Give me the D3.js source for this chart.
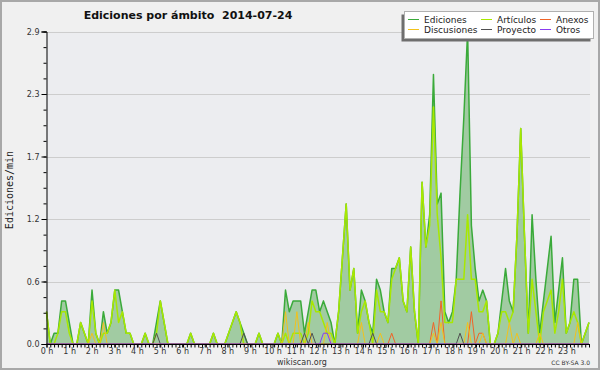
<!DOCTYPE html>
<html>
<head>
<meta charset="utf-8">
<script src="https://d3js.org/d3.v7.min.js"></script>
<style>
  body { margin: 0; background: #f0f0f0; }
  svg text { font-family: "DejaVu Sans", sans-serif; }
</style>
</head>
<body>
<script>
// edits per minute, one value every 10 minutes (144 per day)
var ediciones = [
  0.3,0,0.1,0.1,0.4,0.4,0.2,0,0,0.2,0.1,0,
  0.5,0.1,0,0.3,0.1,0.2,0.5,0.5,0.3,0.1,0.1,0,
  0,0,0.1,0,0,0.2,0.4,0.2,0,0,0,0,
  0,0,0.1,0,0,0,0,0,0.1,0,0,0,
  0.1,0.2,0.3,0.2,0.1,0,0,0,0.1,0,0,0,
  0,0.1,0,0.5,0.3,0.4,0.4,0.4,0.1,0.3,0.5,0.5,
  0.3,0.4,0.3,0.2,0,0.3,0.8,1.3,0.5,0.7,0.1,0.5,
  0.4,0.2,0.1,0.6,0.5,0.3,0.2,0.7,0.7,0.8,0.4,0.3,
  0.9,0.3,0,1.5,0.9,1.2,2.5,1.3,1.4,0.3,0.2,0.3,
  0.6,1.4,2.1,2.9,1.1,0.7,0.4,0.5,0.4,0,0,0.1,
  0.4,0.7,0.4,0.3,1.0,2.0,1.0,0.1,1.2,0.6,0.1,0.4,
  0.7,1.0,0.2,0.5,0.8,0.1,0.2,0.6,0.6,0,0.1,0.2
];
var articulos = [
  0.3,0,0,0.1,0.3,0.3,0.1,0,0,0.2,0.1,0,
  0.4,0.1,0,0.1,0.1,0.2,0.5,0.2,0.3,0.1,0.1,0,
  0,0,0.1,0,0,0.1,0.4,0.2,0,0,0,0,
  0,0,0.1,0,0,0,0,0,0.1,0,0,0,
  0.1,0.2,0.3,0.2,0,0,0,0,0.1,0,0,0,
  0,0.1,0,0.1,0,0.1,0.1,0.1,0,0.1,0.4,0.3,
  0.3,0.2,0.1,0.1,0,0.3,0.8,1.3,0.5,0.7,0.1,0.3,
  0.4,0.2,0,0.5,0.3,0.3,0.2,0.6,0.7,0.8,0.4,0.3,
  0.9,0.3,0,1.5,0.9,1.1,2.2,1.2,0.8,0.2,0.2,0.2,
  0.6,0.6,0.6,1.2,0.6,0.6,0.3,0.3,0.4,0,0,0.1,
  0.3,0.3,0.2,0.3,1.0,2.0,1.0,0.1,0.6,0.3,0,0.3,
  0.4,0.5,0.1,0.3,0.6,0.1,0.2,0.3,0.2,0,0.1,0.2
];
var discusiones = [
  0,0,0,0,0,0,0,0,0,0,0,0,
  0.1,0,0,0.2,0,0,0,0,0,0,0,0,
  0,0,0,0,0,0,0,0,0,0,0,0,
  0,0,0,0,0,0,0,0,0,0,0,0,
  0,0,0,0,0,0,0,0,0,0,0,0,
  0,0,0,0.3,0,0,0.3,0,0,0.2,0,0,
  0,0,0.2,0,0,0,0,0,0,0,0,0.2,
  0,0,0,0,0.1,0,0,0,0,0,0,0,
  0,0,0,0,0,0,0.1,0,0.2,0,0,0,
  0,0,0,0.2,0,0,0,0.1,0,0,0,0,
  0,0,0.2,0,0.1,0,0,0,0,0,0.1,0,
  0,0,0,0,0,0,0,0,0.2,0,0,0
];
var proyecto = [
  0,0,0,0,0,0,0,0,0,0,0,0,
  0,0,0,0,0,0,0,0,0,0,0,0,
  0,0,0,0,0,0.1,0,0,0,0,0,0,
  0,0,0,0,0,0,0,0,0,0,0,0,
  0,0,0,0,0.1,0,0,0,0,0,0,0,
  0,0,0,0,0,0,0,0,0.1,0,0.1,0,
  0,0,0,0,0,0,0,0,0,0,0,0,
  0,0,0.1,0,0,0,0,0,0,0,0,0,
  0,0,0,0,0,0,0,0,0,0,0,0,
  0,0.1,0,0,0,0,0,0,0,0,0,0,
  0,0,0,0,0,0,0,0,0,0,0,0,
  0,0,0,0,0,0,0,0,0,0,0,0
];
var anexos = [
  0,0,0,0,0,0,0,0,0,0,0,0,
  0,0,0,0,0,0,0,0,0,0,0,0,
  0,0,0,0,0,0,0,0,0,0,0,0,
  0,0,0,0,0,0,0,0,0,0,0,0,
  0,0,0,0,0,0,0,0,0,0,0,0,
  0,0,0,0,0,0,0,0,0,0,0,0,
  0,0,0,0,0,0,0,0,0,0,0,0,
  0,0,0,0,0,0,0,0.1,0,0,0,0,
  0,0,0,0,0,0,0.2,0,0.4,0,0,0,
  0,0,0,0,0.3,0,0.1,0.1,0,0,0,0,
  0,0,0,0,0,0,0,0,0,0,0,0,
  0,0,0,0,0,0,0,0,0,0,0,0
];
var otros = [
  0,0,0,0,0,0,0,0,0,0,0,0,
  0,0,0,0,0,0,0,0,0,0,0,0,
  0,0,0,0,0,0,0,0,0,0,0,0,
  0,0,0,0,0,0,0,0,0,0,0,0,
  0,0,0,0,0,0,0,0,0,0,0,0,
  0,0,0,0,0,0,0,0,0,0,0,0,
  0,0.1,0.1,0,0,0,0,0,0,0,0,0,
  0,0,0,0,0,0,0,0,0,0,0,0,
  0,0,0,0,0,0,0,0,0,0,0,0,
  0,0,0,0,0,0,0,0,0,0,0,0,
  0,0,0,0,0,0,0,0,0,0,0,0,
  0,0,0,0,0,0,0,0,0,0,0,0
];

var hourLabels = d3.range(24).map(function (h) { return h + " h"; });
var yMax = 2.9;
var yTicks = [0, 0.58, 1.16, 1.74, 2.32, 2.9];

var series = [
  {name: "Ediciones",   data: ediciones,   color: "#3aaa3a", width: 1.5},
  {name: "Artículos",   data: articulos,   color: "#a8e800", width: 1.5},
  {name: "Anexos",      data: anexos,      color: "#f06428", width: 1},
  {name: "Discusiones", data: discusiones, color: "#f2c21c", width: 1},
  {name: "Proyecto",    data: proyecto,    color: "#505050", width: 1},
  {name: "Otros",       data: otros,       color: "#8a3cf0", width: 1}
];

var W = 600, H = 370;
var L = 46, R = 589, T = 31.5, B = 344;

var svg = d3.select("body").append("svg")
  .attr("width", W).attr("height", H);

// frame
svg.append("rect").attr("x", 1).attr("y", 1).attr("width", W - 2).attr("height", H - 2)
  .style("fill", "#f0f0f0").style("stroke", "#a8a8a8").style("stroke-width", 2);

var xData = d3.scaleLinear().domain([0, ediciones.length - 1]).range([L + 0.5, R]);
var xHour = d3.scaleLinear().domain([0, 24]).range([L + 0.5, R]);
var y = d3.scaleLinear().domain([0, yMax]).range([B, T]);

// plot background
svg.append("rect").attr("x", L).attr("y", T).attr("width", R - L + 1).attr("height", B - T)
  .style("fill", "#ecedf0");

// gridlines
svg.append("g").selectAll("line")
  .data(yTicks.slice(1))
  .enter().append("line")
    .attr("x1", L).attr("x2", R + 1)
    .attr("y1", function (d) { return Math.round(y(d)) + 0.5; })
    .attr("y2", function (d) { return Math.round(y(d)) + 0.5; })
    .style("stroke", "#cdcdcd");

// filled area under total
var area = d3.area()
  .x(function (d, i) { return xData(i); })
  .y0(y(0))
  .y1(function (d) { return y(d); });

svg.append("path")
  .datum(ediciones)
  .attr("d", area)
  .style("fill", "#8fc28f")
  .style("fill-opacity", 0.8);

var line = d3.line()
  .x(function (d, i) { return xData(i); })
  .y(function (d) { return y(d); });

svg.append("g").selectAll("path")
  .data(series)
  .enter().append("path")
    .attr("d", function (s) { return line(s.data); })
    .style("fill", "none")
    .style("stroke", function (s) { return s.color; })
    .style("stroke-width", function (s) { return s.width; })
    .style("stroke-linejoin", "round");

// y axis
var yAxis = d3.axisLeft(y)
  .tickValues(yTicks)
  .tickFormat(d3.format(".1f"))
  .tickSize(5)
  .tickPadding(2);
var gy = svg.append("g").attr("transform", "translate(" + (L + 0.5) + ",0)").call(yAxis);

var gyMinor = svg.append("g").attr("transform", "translate(" + (L + 0.5) + ",0)")
  .call(d3.axisLeft(y).tickValues(d3.range(0, 21).map(function (k) { return k * yMax / 20; }))
    .tickFormat("").tickSize(3));
gyMinor.select(".domain").remove();

// x axis
var gxMinor = svg.append("g").attr("transform", "translate(0," + (B + 0.5) + ")")
  .call(d3.axisBottom(xData).tickValues(d3.range(ediciones.length)).tickFormat("").tickSize(3));
gxMinor.select(".domain").attr("d", "M" + L + ",0H" + (R + 1));

var gx = svg.append("g").attr("transform", "translate(0," + (B + 0.5) + ")")
  .call(d3.axisBottom(xHour).tickValues(d3.range(24))
    .tickFormat(function (h) { return hourLabels[h]; })
    .tickSize(3).tickPadding(1));
gx.select(".domain").remove();

svg.selectAll(".tick text").style("font-size", "8px").style("fill", "#333")
  .style("font-family", "DejaVu Sans, sans-serif");
svg.selectAll(".tick line").style("stroke", "#000");
svg.selectAll(".domain").style("stroke", "#000");

// titles
svg.append("text")
  .attr("x", 188).attr("y", 18.5)
  .attr("text-anchor", "middle")
  .style("font-size", "11px").style("font-weight", "bold")
  .style("white-space", "pre").style("fill", "#111")
  .text("Ediciones por ámbito  2014-07-24");

svg.append("text")
  .attr("transform", "translate(13,190) rotate(-90)")
  .attr("text-anchor", "middle")
  .style("font-family", "DejaVu Sans Mono, monospace")
  .style("font-size", "10px").style("fill", "#222")
  .text("Ediciones/min");

svg.append("text")
  .attr("x", 302).attr("y", 365)
  .attr("text-anchor", "middle")
  .style("font-size", "8px").style("fill", "#333")
  .text("wikiscan.org");

svg.append("text")
  .attr("x", 590).attr("y", 365)
  .attr("text-anchor", "end")
  .style("font-size", "6px").style("fill", "#333")
  .text("CC BY-SA 3.0");

// legend
var legend = svg.append("g");
legend.append("rect").attr("x", 401.5).attr("y", 14.5).attr("width", 189).attr("height", 27)
  .style("fill", "#6e6e6e");
legend.append("rect").attr("x", 404.5).attr("y", 11.5).attr("width", 189).attr("height", 27)
  .style("fill", "#ffffff").style("stroke", "#b0b0b0");

var legendOrder = ["Ediciones", "Artículos", "Anexos", "Discusiones", "Proyecto", "Otros"];
var colX = [408, 481, 540];
var rowY = [19.5, 29.5];
var items = legend.selectAll("g.item")
  .data(legendOrder.map(function (n) { return series.find(function (s) { return s.name === n; }); }))
  .enter().append("g")
    .attr("class", "item")
    .attr("transform", function (d, i) {
      return "translate(" + colX[i % 3] + "," + rowY[Math.floor(i / 3)] + ")";
    });
items.append("line")
  .attr("x1", 0).attr("x2", 11).attr("y1", 0).attr("y2", 0)
  .style("stroke", function (d) { return d.color; })
  .style("stroke-width", 1);
items.append("text")
  .attr("x", 16).attr("y", 3)
  .style("font-size", "9px").style("fill", "#222")
  .text(function (d) { return d.name; });
</script>
</body>
</html>
